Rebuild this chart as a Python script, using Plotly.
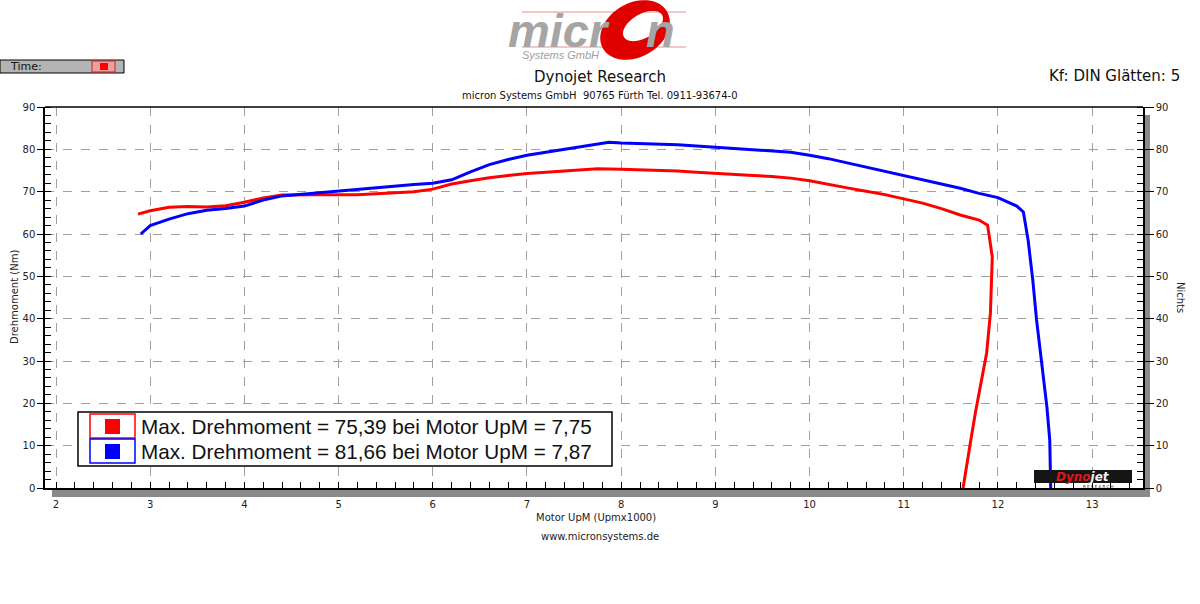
import numpy as np
import plotly.graph_objects as go

# ---------------- data ----------------
red_rpm = [2.87, 3.0, 3.2, 3.4, 3.6, 3.8, 4.0, 4.2, 4.4, 4.6, 4.8, 5.0, 5.2, 5.4, 5.6, 5.8,
           6.0, 6.2, 6.4, 6.6, 6.8, 7.0, 7.2, 7.4, 7.6, 7.75, 8.0, 8.2, 8.4, 8.6, 8.8, 9.0,
           9.2, 9.4, 9.6, 9.8, 10.0, 10.2, 10.4, 10.6, 10.8, 11.0, 11.2, 11.4, 11.6, 11.8,
           11.89, 11.94, 11.92, 11.88, 11.84, 11.76, 11.70, 11.63]
red_torque = [64.7, 65.5, 66.3, 66.5, 66.4, 66.7, 67.5, 68.5, 69.2, 69.3, 69.3, 69.3, 69.3,
              69.5, 69.8, 70.0, 70.6, 71.8, 72.6, 73.3, 73.8, 74.3, 74.6, 74.9, 75.2, 75.39,
              75.3, 75.2, 75.0, 74.9, 74.6, 74.3, 74.0, 73.8, 73.6, 73.2, 72.6, 71.7, 70.9,
              70.1, 69.3, 68.3, 67.3, 66.0, 64.5, 63.3, 62.1, 54.6, 41.3, 31.9, 27.2, 17.7,
              9.7, 0.0]

blue_rpm = [2.9, 3.0, 3.2, 3.4, 3.6, 3.8, 4.0, 4.2, 4.4, 4.6, 4.8, 5.0, 5.2, 5.4, 5.6, 5.8,
            6.0, 6.2, 6.4, 6.6, 6.8, 7.0, 7.2, 7.4, 7.6, 7.87, 8.0, 8.2, 8.4, 8.6, 8.8, 9.0,
            9.2, 9.4, 9.6, 9.8, 10.0, 10.2, 10.4, 10.6, 10.8, 11.0, 11.2, 11.4, 11.6, 11.8,
            12.0, 12.2, 12.27, 12.32, 12.37, 12.41, 12.47, 12.52, 12.55, 12.56]
blue_torque = [60.0, 62.0, 63.5, 64.8, 65.6, 66.0, 66.6, 68.0, 69.0, 69.4, 69.8, 70.2, 70.6,
               71.0, 71.4, 71.7, 72.0, 72.8, 74.7, 76.4, 77.6, 78.6, 79.3, 80.0, 80.8, 81.66,
               81.5, 81.4, 81.3, 81.1, 80.8, 80.5, 80.2, 80.0, 79.7, 79.3, 78.6, 77.8, 76.8,
               75.8, 74.8, 73.8, 72.8, 71.8, 70.8, 69.6, 68.6, 66.6, 65.2, 58.6, 49.1, 39.7,
               28.6, 19.1, 11.3, 0.0]

x_ticks = list(range(2, 14))
y_ticks = list(range(0, 100, 10))
legend_labels = ["Max. Drehmoment = 75,39 bei Motor UpM = 7,75",
                 "Max. Drehmoment = 81,66 bei Motor UpM = 7,87"]
series_colors = ["#ff0000", "#0000ff"]

# ---------------- layout geometry helpers (pixels -> paper) ----------------
W, H = 1200, 604
L, R, T, B = 45, 1143, 107, 488
PW, PH = R - L, B - T


def px(x):
    return (x - L) / PW


def py(y):
    return (B - y) / PH


fig = go.Figure()
fig.add_trace(go.Scatter(x=red_rpm, y=red_torque, mode="lines",
                         line=dict(color=series_colors[0], width=3), showlegend=False))
fig.add_trace(go.Scatter(x=blue_rpm, y=blue_torque, mode="lines",
                         line=dict(color=series_colors[1], width=3), showlegend=False))
# invisible trace for right axis
fig.add_trace(go.Scatter(x=[None], y=[None], yaxis="y2", showlegend=False))

shapes = []
annotations = []

# gray bands
shapes.append(dict(type="rect", xref="paper", yref="paper", x0=px(52), x1=px(1143),
                   y0=py(497), y1=py(489), fillcolor="#8a8a8a", line=dict(width=0), layer="below"))
shapes.append(dict(type="rect", xref="paper", yref="paper", x0=px(1143), x1=px(1150),
                   y0=py(497), y1=py(115), fillcolor="#8a8a8a", line=dict(width=0), layer="below"))
# top border
shapes.append(dict(type="line", xref="paper", yref="paper", x0=0, x1=1, y0=1, y1=1,
                   line=dict(color="black", width=1.5)))

# legend box
shapes.append(dict(type="rect", xref="paper", yref="paper", x0=px(78), x1=px(612),
                   y0=py(466), y1=py(412), fillcolor="white", line=dict(color="black", width=1.5)))
for i, (lab, col) in enumerate(zip(legend_labels, series_colors)):
    yt = 414 + i * 25
    shapes.append(dict(type="rect", xref="paper", yref="paper", x0=px(90), x1=px(135),
                       y0=py(yt + 24), y1=py(yt), fillcolor="white",
                       line=dict(color=col, width=1.5)))
    shapes.append(dict(type="rect", xref="paper", yref="paper", x0=px(105), x1=px(120),
                       y0=py(yt + 20), y1=py(yt + 5), fillcolor=col, line=dict(width=0)))
    annotations.append(dict(xref="paper", yref="paper", x=px(139), y=py(yt + 12), text=lab,
                            showarrow=False, xanchor="left", yanchor="middle",
                            font=dict(family="Liberation Sans", size=20.7, color="#111")))

# Time widget
shapes.append(dict(type="rect", xref="paper", yref="paper", x0=px(0), x1=px(124),
                   y0=py(73), y1=py(60), fillcolor="#b4b4b4", line=dict(color="black", width=1)))
shapes.append(dict(type="rect", xref="paper", yref="paper", x0=px(92), x1=px(115),
                   y0=py(72), y1=py(61), fillcolor="#e8a0a0", line=dict(color="#d02020", width=1)))
shapes.append(dict(type="rect", xref="paper", yref="paper", x0=px(100), x1=px(108),
                   y0=py(70), y1=py(63), fillcolor="#ff0000", line=dict(width=0)))
annotations.append(dict(xref="paper", yref="paper", x=px(8), y=py(67), text="Time:",
                        showarrow=False, xanchor="left", yanchor="middle",
                        font=dict(family="DejaVu Sans", size=11, color="#111")))

# micron logo
shapes.append(dict(type="line", xref="paper", yref="paper", x0=px(522), x1=px(686),
                   y0=py(12), y1=py(12), line=dict(color="#e89090", width=1)))
shapes.append(dict(type="line", xref="paper", yref="paper", x0=px(522), x1=px(686),
                   y0=py(47), y1=py(47), line=dict(color="#e89090", width=1)))
t = np.linspace(0, 2 * np.pi, 72)


def ell(cx, cy, rx, ry, deg):
    a = np.deg2rad(deg)
    xs = cx + rx * np.cos(t) * np.cos(a) - ry * np.sin(t) * np.sin(a)
    ys = cy + rx * np.cos(t) * np.sin(a) + ry * np.sin(t) * np.cos(a)
    return "M " + " L ".join(f"{px(u):.5f},{py(v):.5f}" for u, v in zip(xs, ys)) + " Z"


shapes.append(dict(type="path", xref="paper", yref="paper",
                   path=ell(635, 30, 37, 27, -30) + " " + ell(643, 26, 22, 12, -30),
                   fillcolor="#e00000", line=dict(width=0), fillrule="evenodd", layer="above"))
annotations.append(dict(xref="paper", yref="paper", x=px(612), y=py(30), text="<b><i>micr</i></b>",
                        showarrow=False, xanchor="right", yanchor="middle",
                        font=dict(family="Liberation Sans", size=47, color="#a5a5a5")))
annotations.append(dict(xref="paper", yref="paper", x=px(644), y=py(30), text="<b><i>n</i></b>",
                        showarrow=False, xanchor="left", yanchor="middle",
                        font=dict(family="Liberation Sans", size=47, color="#a5a5a5")))
annotations.append(dict(xref="paper", yref="paper", x=px(560), y=py(55), text="<i>Systems GmbH</i>",
                        showarrow=False, xanchor="center", yanchor="middle",
                        font=dict(family="Liberation Sans", size=11, color="#a0a0a0")))

# headers
annotations.append(dict(xref="paper", yref="paper", x=px(600), y=py(77), text="Dynojet Research",
                        showarrow=False, xanchor="center", yanchor="middle",
                        font=dict(family="DejaVu Sans", size=15, color="#111")))
annotations.append(dict(xref="paper", yref="paper", x=px(600), y=py(95),
                        text="micron Systems GmbH  90765 Fürth Tel. 0911-93674-0",
                        showarrow=False, xanchor="center", yanchor="middle",
                        font=dict(family="DejaVu Sans", size=10, color="#111")))
annotations.append(dict(xref="paper", yref="paper", x=px(1182), y=py(76), text="Kf: DIN Glätten: 5",
                        showarrow=False, xanchor="right", yanchor="middle",
                        font=dict(family="DejaVu Sans", size=15, color="#111")))
# axis titles
annotations.append(dict(xref="paper", yref="paper", x=px(14), y=py(297), text="Drehmoment (Nm)",
                        showarrow=False, textangle=-90, xanchor="center", yanchor="middle",
                        font=dict(family="DejaVu Sans", size=10, color="#222")))
annotations.append(dict(xref="paper", yref="paper", x=px(1181), y=py(297), text="Nichts",
                        showarrow=False, textangle=90, xanchor="center", yanchor="middle",
                        font=dict(family="DejaVu Sans", size=10, color="#222")))
annotations.append(dict(xref="paper", yref="paper", x=px(596), y=py(517), text="Motor UpM (Upmx1000)",
                        showarrow=False, xanchor="center", yanchor="middle",
                        font=dict(family="DejaVu Sans", size=10, color="#222")))
annotations.append(dict(xref="paper", yref="paper", x=px(600), y=py(536), text="www.micronsystems.de",
                        showarrow=False, xanchor="center", yanchor="middle",
                        font=dict(family="DejaVu Sans", size=10, color="#222")))
# Dynojet logo
shapes.append(dict(type="rect", xref="paper", yref="paper", x0=px(1034), x1=px(1132),
                   y0=py(483), y1=py(470), fillcolor="#151515", line=dict(width=0), layer="above"))
annotations.append(dict(xref="paper", yref="paper", x=px(1083), y=py(476.5),
                        text="<b><i><span style='color:#e01818'>Dyno</span><span style='color:#f4f4f4'>jet</span></i></b>",
                        showarrow=False, xanchor="center", yanchor="middle", borderpad=0,
                        font=dict(family="DejaVu Sans", size=12)))
annotations.append(dict(xref="paper", yref="paper", x=px(1098), y=py(486.5),
                        text="R E S E A R C H", borderpad=0,
                        showarrow=False, xanchor="center", yanchor="middle",
                        font=dict(family="DejaVu Sans", size=4, color="#222")))

tickfont = dict(family="DejaVu Sans", size=10, color="#222")
fig.update_layout(
    width=W, height=H,
    margin=dict(l=L, r=W - R, t=T, b=H - B),
    paper_bgcolor="white", plot_bgcolor="white",
    showlegend=False,
    xaxis=dict(range=[1.883, 13.54], tickvals=x_ticks, ticks="inside", ticklen=6,
               tickcolor="black", showline=True, linecolor="black", linewidth=1.5,
               showgrid=True, gridcolor="#a0a0a0", griddash="dash", gridwidth=1,
               zeroline=False, tickfont=tickfont, ticklabelstandoff=6,
               minor=dict(dtick=0.2, tick0=2, ticks="inside", ticklen=6, tickcolor="black",
                          showgrid=False)),
    yaxis=dict(range=[0, 90], tickvals=y_ticks, ticks="outside", ticklen=6,
               tickcolor="black", showline=True, linecolor="black", linewidth=1.5,
               showgrid=True, gridcolor="#a0a0a0", griddash="dash", gridwidth=1,
               zeroline=False, tickfont=tickfont,
               minor=dict(dtick=2, tick0=0, ticks="inside", ticklen=6, tickcolor="black",
                          showgrid=False)),
    yaxis2=dict(range=[0, 90], tickvals=y_ticks, overlaying="y", side="right",
                ticks="outside", ticklen=9, tickcolor="black", showline=True,
                linecolor="black", linewidth=1.5, showgrid=False, zeroline=False,
                tickfont=tickfont,
                minor=dict(dtick=2, tick0=0, ticks="inside", ticklen=6, tickcolor="black",
                           showgrid=False)),
    shapes=shapes,
    annotations=annotations,
)

fig.write_html("out.html")
